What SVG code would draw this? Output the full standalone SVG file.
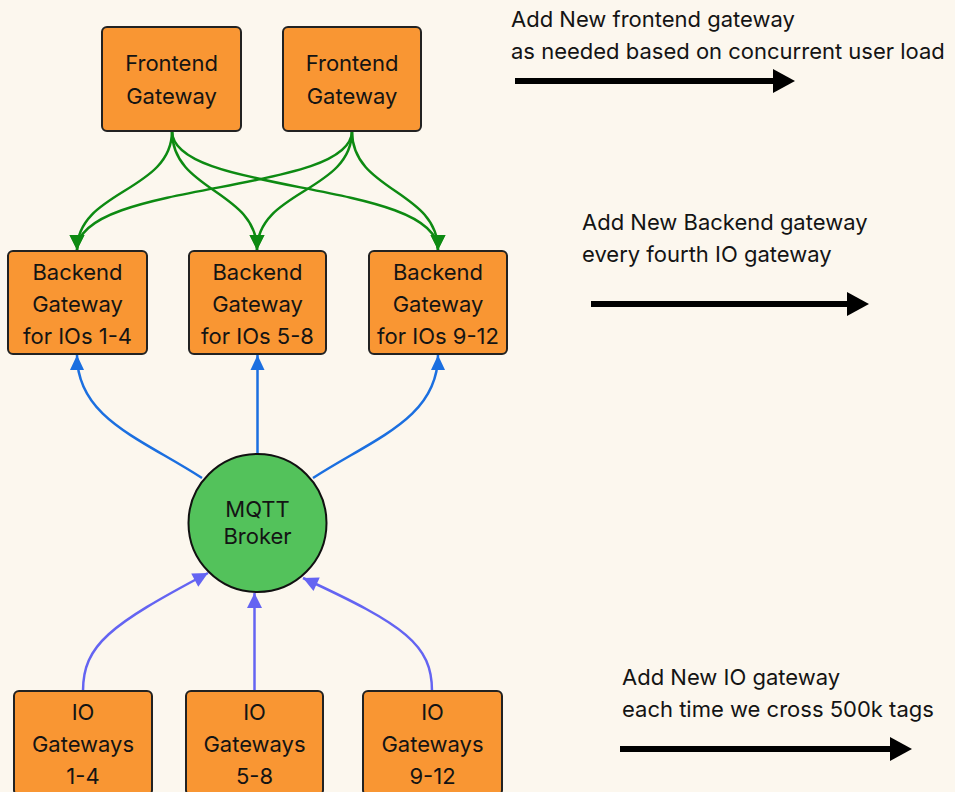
<svg xmlns="http://www.w3.org/2000/svg" width="955" height="792" viewBox="0 0 955 792">
  <style>
    .box { fill: #f99633; stroke: #222; stroke-width: 2; }
    .hub { fill: #53c25b; stroke: #111; stroke-width: 2; }
    .lbl { font-family: Inter, "Noto Sans", "Liberation Sans", sans-serif; font-size: 22px; fill: #141414; text-anchor: middle; }
    .note { font-family: Inter, "Noto Sans", "Liberation Sans", sans-serif; font-size: 22px; fill: #141414; }
    .green { fill: none; stroke: #0d8a12; stroke-width: 2.5; marker-end: url(#headGreen); }
    .blue { fill: none; stroke: #1b6fe0; stroke-width: 2.5; marker-end: url(#headBlue); }
    .purple { fill: none; stroke: #6464f2; stroke-width: 2.5; marker-end: url(#headPurple); }
    .scale { stroke: #000; stroke-width: 6; }
  </style>
  <defs>
    <marker id="headGreen" markerUnits="userSpaceOnUse" markerWidth="17" markerHeight="17" viewBox="0 0 17 17" refX="16" refY="8.5" orient="auto">
      <path d="M1,1 L16,8.5 L1,16 Z" fill="#0d8a12"/>
    </marker>
    <marker id="headBlue" markerUnits="userSpaceOnUse" markerWidth="17" markerHeight="17" viewBox="0 0 17 17" refX="16" refY="8.5" orient="auto">
      <path d="M1,1.5 L16,8.5 L1,15.5 Z" fill="#1b6fe0"/>
    </marker>
    <marker id="headPurple" markerUnits="userSpaceOnUse" markerWidth="17" markerHeight="17" viewBox="0 0 17 17" refX="16" refY="8.5" orient="auto">
      <path d="M1,1 L16,8.5 L1,16 Z" fill="#6464f2"/>
    </marker>
  </defs>

  <rect x="0" y="0" width="955" height="792" fill="#fcf7ee"/>

  <!-- connectors -->
  <g id="connectors">
    <!-- frontend to backend -->
    <path class="green" d="M172,131 C172,192 77,190 77,250"/>
    <path class="green" d="M172,131 C172,192 257,190 257,250"/>
    <path class="green" d="M172,131 C172,195 438,180 438,250"/>
    <path class="green" d="M352,131 C352,195 77,180 77,250"/>
    <path class="green" d="M352,131 C352,192 257,190 257,250"/>
    <path class="green" d="M352,131 C352,192 438,190 438,250"/>
    <!-- broker to backend -->
    <path class="blue" d="M202,478 C140,438 77,418 77,355"/>
    <path class="blue" d="M257.5,454 L257.5,355"/>
    <path class="blue" d="M313,478 C375,438 438,418 438,355"/>
    <!-- io to broker -->
    <path class="purple" d="M83,691 C83,645 110,625 208,573"/>
    <path class="purple" d="M254.5,691 L254.5,593"/>
    <path class="purple" d="M432,691 C432,645 405,625 303,578"/>
  </g>

  <!-- frontend gateways -->
  <g id="frontend-1">
    <rect class="box" x="102" y="27" width="139" height="104" rx="5"/>
    <text class="lbl" x="171.5" y="71">Frontend</text>
    <text class="lbl" x="171.5" y="104">Gateway</text>
  </g>
  <g id="frontend-2">
    <rect class="box" x="283" y="27" width="138" height="104" rx="5"/>
    <text class="lbl" x="352" y="71">Frontend</text>
    <text class="lbl" x="352" y="104">Gateway</text>
  </g>

  <!-- backend gateways -->
  <g id="backend-1">
    <rect class="box" x="8" y="251" width="139" height="103" rx="5"/>
    <text class="lbl" x="77.5" y="280">Backend</text>
    <text class="lbl" x="77.5" y="312">Gateway</text>
    <text class="lbl" x="77.5" y="344">for IOs 1-4</text>
  </g>
  <g id="backend-2">
    <rect class="box" x="189" y="251" width="137" height="103" rx="5"/>
    <text class="lbl" x="257.5" y="280">Backend</text>
    <text class="lbl" x="257.5" y="312">Gateway</text>
    <text class="lbl" x="257.5" y="344">for IOs 5-8</text>
  </g>
  <g id="backend-3">
    <rect class="box" x="369" y="251" width="138" height="103" rx="5"/>
    <text class="lbl" x="438" y="280">Backend</text>
    <text class="lbl" x="438" y="312">Gateway</text>
    <text class="lbl" x="438" y="344">for IOs 9-12</text>
  </g>

  <!-- broker -->
  <g id="mqtt-broker">
    <circle class="hub" cx="257.5" cy="523" r="69"/>
    <text class="lbl" x="257.5" y="517">MQTT</text>
    <text class="lbl" x="257.5" y="544">Broker</text>
  </g>

  <!-- io gateways -->
  <g id="io-1">
    <rect class="box" x="14" y="691" width="138" height="104" rx="5"/>
    <text class="lbl" x="83" y="720">IO</text>
    <text class="lbl" x="83" y="752">Gateways</text>
    <text class="lbl" x="83" y="784">1-4</text>
  </g>
  <g id="io-2">
    <rect class="box" x="186" y="691" width="137" height="104" rx="5"/>
    <text class="lbl" x="254.5" y="720">IO</text>
    <text class="lbl" x="254.5" y="752">Gateways</text>
    <text class="lbl" x="254.5" y="784">5-8</text>
  </g>
  <g id="io-3">
    <rect class="box" x="363" y="691" width="139" height="104" rx="5"/>
    <text class="lbl" x="432.5" y="720">IO</text>
    <text class="lbl" x="432.5" y="752">Gateways</text>
    <text class="lbl" x="432.5" y="784">9-12</text>
  </g>

  <!-- scaling notes -->
  <g id="note-frontend">
    <text class="note" x="511" y="27">Add New frontend gateway</text>
    <text class="note" x="511" y="59">as needed based on concurrent user load</text>
    <line class="scale" x1="515" y1="81" x2="775" y2="81"/>
    <polygon points="773,69 795,81 773,93" fill="#000"/>
  </g>
  <g id="note-backend">
    <text class="note" x="582" y="230">Add New Backend gateway</text>
    <text class="note" x="582" y="262">every fourth IO gateway</text>
    <line class="scale" x1="591" y1="304" x2="849" y2="304"/>
    <polygon points="847,292 869,304 847,316" fill="#000"/>
  </g>
  <g id="note-io">
    <text class="note" x="622" y="685">Add New IO gateway</text>
    <text class="note" x="622" y="717">each time we cross 500k tags</text>
    <line class="scale" x1="620" y1="749" x2="892" y2="749"/>
    <polygon points="890,737 912,749 890,761" fill="#000"/>
  </g>
</svg>
